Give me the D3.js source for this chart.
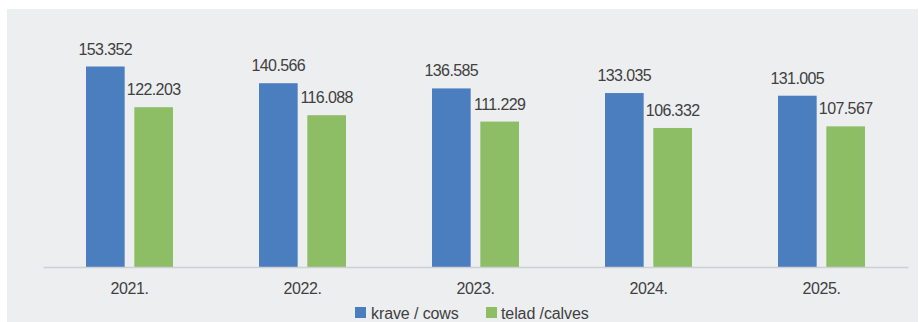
<!DOCTYPE html>
<html>
<head>
<meta charset="utf-8">
<script src="https://d3js.org/d3.v7.min.js"></script>
<style>
  html, body { margin: 0; padding: 0; background: #ffffff; }
  svg { display: block; }
  text { font-family: "Liberation Sans", Arial, sans-serif; fill: #404040; }
</style>
</head>
<body>
<svg id="chart" width="919" height="322"></svg>
<script>
// Herd size by year
const years = ["2021.", "2022.", "2023.", "2024.", "2025."];
const cows = [153352, 140566, 136585, 133035, 131005];
const calves = [122203, 116088, 111229, 106332, 107567];
const seriesNames = ["krave / cows", "telad /calves"];
const seriesColors = ["#4a7ebf", "#8dbd65"];

const fmt = d3.format(",.0f");
const label = v => fmt(v).replace(/,/g, ".");

const W = 919, H = 322;
const svg = d3.select("#chart");

// panel background
svg.append("rect")
  .attr("x", 7).attr("y", 9)
  .attr("width", 911).attr("height", H - 9)
  .attr("fill", "#edeef0");

const baseY = 267;
const x0 = d3.scaleBand().domain(years).range([43, 908]).paddingInner(0).paddingOuter(0);
const x1 = d3.scaleBand().domain([0, 1]).range([0, 87]).paddingInner(0.2);
const y = d3.scaleLinear().domain([0, 153352]).range([baseY, 66.5]);

const data = years.map((yr, i) => ({ yr, vals: [cows[i], calves[i]] }));

const groups = svg.append("g").selectAll("g")
  .data(data).join("g")
  .attr("transform", d => `translate(${x0(d.yr) + x0.bandwidth() / 2 - 43.5},0)`);

groups.selectAll("rect")
  .data(d => d.vals.map((v, k) => ({ v, k })))
  .join("rect")
  .attr("x", d => x1(d.k))
  .attr("width", x1.bandwidth())
  .attr("y", d => y(d.v))
  .attr("height", d => baseY - y(d.v))
  .attr("fill", d => seriesColors[d.k]);

groups.selectAll("text.val")
  .data(d => d.vals.map((v, k) => ({ v, k })))
  .join("text")
  .attr("class", "val")
  .attr("x", d => x1(d.k) + x1.bandwidth() / 2)
  .attr("y", d => y(d.v) - 12)
  .attr("text-anchor", "middle")
  .attr("font-size", 16)
  .attr("letter-spacing", -0.6)
  .text(d => label(d.v));

// category axis
const axis = svg.append("g").attr("transform", `translate(0,${baseY})`)
  .call(d3.axisBottom(x0).tickSize(0).tickPadding(16));
axis.select(".domain").attr("stroke", "#cfd0d3").attr("stroke-width", 1.5);
axis.selectAll(".tick text")
  .attr("font-size", 16)
  .attr("letter-spacing", -0.4)
  .style("font-family", '"Liberation Sans", Arial, sans-serif')
  .attr("fill", "#404040");

// legend
const legend = svg.append("g");
const legendX = [355, 486];
seriesNames.forEach((name, i) => {
  const g = legend.append("g").attr("transform", `translate(${legendX[i]},307)`);
  g.append("rect").attr("width", 11).attr("height", 11).attr("fill", seriesColors[i]);
  g.append("text").attr("x", i === 0 ? 16 : 15).attr("y", 11.5)
    .attr("font-size", 16).attr("letter-spacing", -0.1).text(name);
});
</script>
</body>
</html>
